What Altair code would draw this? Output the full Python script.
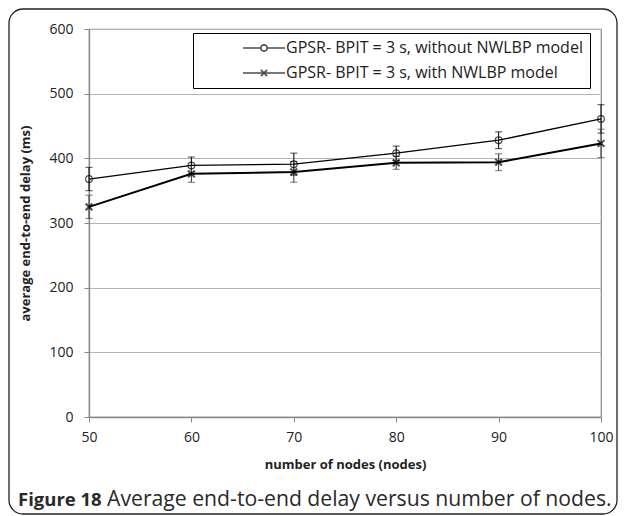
import altair as alt
import pandas as pd

# ---- data ----
nodes = [50, 60, 70, 80, 90, 100]
series_names = ["GPSR- BPIT = 3 s, without NWLBP model",
                "GPSR- BPIT = 3 s, with NWLBP model"]
delay_without = [368, 389, 391, 408, 428, 461]
err_without = [18, 13, 17, 11, 13, 22]
delay_with = [325, 376, 379, 393, 394, 423]
err_with = [18, 13, 16, 10, 13, 22]
caption_bold = ["Figure 18"]
caption_rest = ["Average end-to-end delay versus number of nodes."]

rows = []
for name, ys, es in [(series_names[0], delay_without, err_without),
                     (series_names[1], delay_with, err_with)]:
    for n, y, e in zip(nodes, ys, es):
        rows.append({"series": name, "nodes": n, "delay": y,
                     "lo": y - e, "hi": y + e})
df = pd.DataFrame(rows)

FONT = "Open Sans"
TXT = "#222222"

x_enc = alt.X("nodes:Q", scale=alt.Scale(domain=[50, 100], nice=False),
              axis=alt.Axis(values=nodes, title="number of nodes (nodes)",
                            grid=False, tickSize=5, labelPadding=8,
                            labelFlush=False, titlePadding=14))
y_scale = alt.Scale(domain=[0, 600], nice=False)
y_axis = alt.Axis(values=[0, 100, 200, 300, 400, 500, 600],
                  title="average end-to-end delay (ms)", grid=True,
                  tickSize=5, labelPadding=11, titlePadding=16)

base = alt.Chart(df)
sw = alt.StrokeWidth("series:N", scale=alt.Scale(domain=series_names, range=[1.3, 2.0]), legend=None)
col = alt.Color("series:N", scale=alt.Scale(domain=series_names, range=["#111111", "#444444"]), legend=None)

rules = base.mark_rule(strokeWidth=1.1).encode(
    x=x_enc, y=alt.Y("lo:Q", scale=y_scale, axis=y_axis), y2="hi:Q", color=col)
tick_lo = base.mark_tick(orient="horizontal", size=7, thickness=1.1).encode(
    x="nodes:Q", y="lo:Q", color=col)
tick_hi = base.mark_tick(orient="horizontal", size=7, thickness=1.1).encode(
    x="nodes:Q", y="hi:Q", color=col)

lines = base.mark_line(color="black").encode(
    x="nodes:Q", y="delay:Q", detail="series:N", strokeWidth=sw)

XPATH = "M-1,-1L1,1M-1,1L1,-1"
pts = base.mark_point(filled=False, color="black", size=45).encode(
    x="nodes:Q", y="delay:Q",
    shape=alt.Shape("series:N", scale=alt.Scale(domain=series_names, range=["circle", XPATH]), legend=None),
    strokeWidth=alt.StrokeWidth("series:N", scale=alt.Scale(domain=series_names, range=[1.2, 2.0]), legend=None),
)

# legend-only layer: symbols drawn as line + marker
LEG_CIRCLE = ("M-3,0L-0.45,0M0.45,0L3,0"
              "M-0.45,0A0.45,0.45 0 1,1 0.45,0A0.45,0.45 0 1,1 -0.45,0")
LEG_X = "M-3,0L3,0M-0.45,-0.45L0.45,0.45M-0.45,0.45L0.45,-0.45"
leg = base.transform_filter("false").mark_point(filled=False, color="black").encode(
    x="nodes:Q", y="delay:Q",
    shape=alt.Shape("series:N",
                    scale=alt.Scale(domain=series_names, range=[LEG_CIRCLE, LEG_X]),
                    legend=alt.Legend(title=None, orient="none", legendX=104, legendY=4,
                                      strokeColor="black", padding=7,
                                      symbolOffset=56, labelOffset=14,
                                      symbolSize=196, symbolStrokeWidth=1.6,
                                      symbolStrokeColor="black", symbolFillColor="transparent",
                                      rowPadding=9, labelFont=FONT, labelFontSize=16,
                                      labelColor=TXT, labelLimit=500,
                                      fillColor="white")),
)

one = pd.DataFrame({"bold": caption_bold, "rest": caption_rest})
frame = alt.Chart(one).mark_rect(fill=None, stroke="#222222", strokeWidth=1.3,
                                 cornerRadius=14).encode(
    x=alt.value(-80), x2=alt.value(528), y=alt.value(-20), y2=alt.value(485))
cap1 = alt.Chart(one).mark_text(align="left", baseline="middle", font=FONT,
                                fontSize=18.5, fontWeight="bold", color="#2a2a2a").encode(
    x=alt.value(-71), y=alt.value(471), text="bold:N")
cap2 = alt.Chart(one).mark_text(align="left", baseline="middle", font=FONT,
                                fontSize=21.2, color="#2a2a2a").encode(
    x=alt.value(18), y=alt.value(471), text="rest:N")

chart = alt.layer(rules, tick_lo, tick_hi, lines, pts, leg, frame, cap1, cap2).resolve_scale(
    shape="independent", strokeWidth="independent"
).properties(
    width=512, height=388,
    padding={"left": 81, "top": 21, "right": 18, "bottom": 99},
    autosize=alt.AutoSizeParams(type="none"),
    background="white",
).configure_view(stroke="#888888", strokeWidth=1.2).configure_axis(
    labelFont=FONT, labelFontSize=14, labelColor=TXT,
    titleFont=FONT, titleFontSize=13, titleFontWeight="bold", titleColor=TXT,
    domainColor="#888888", domainWidth=1.3, tickColor="#888888",
    gridColor="#b4b4b4", gridWidth=1.2,
)

chart.save("out.html", embed_options={"renderer": "svg", "actions": False})
